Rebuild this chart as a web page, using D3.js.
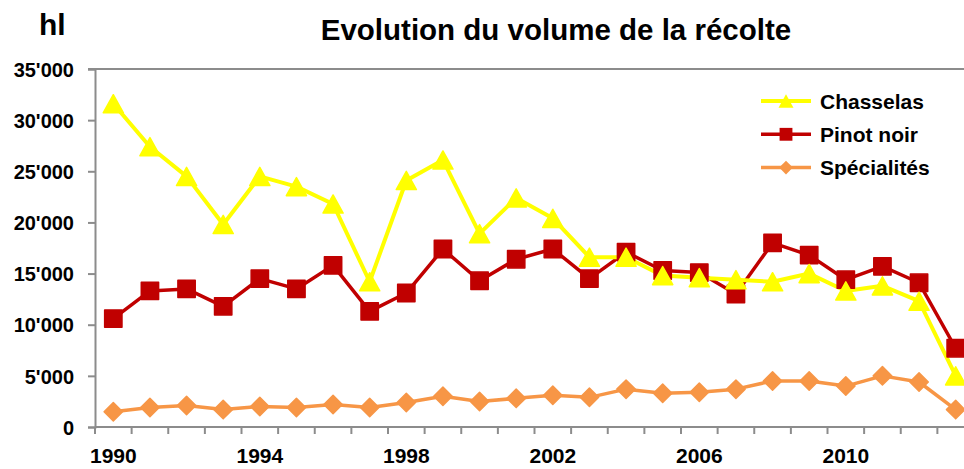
<!DOCTYPE html>
<html>
<head>
<meta charset="utf-8">
<script src="https://cdn.jsdelivr.net/npm/d3@7"></script>
<style>
  body { margin: 0; background: #fff; }
  text { font-family: "Liberation Sans", Arial, sans-serif; font-weight: bold; fill: #000; }
</style>
</head>
<body>
<div id="chart"></div>
<script>
// years on the category axis
var years = d3.range(1990, 2014);
var tickYears = [1990, 1994, 1998, 2002, 2006, 2010];
var yTicks = [0, 5000, 10000, 15000, 20000, 25000, 30000, 35000];

// harvest volume in hl
var chasselas = [31600, 27400, 24500, 19800, 24500, 23500, 21800, 14200, 24100, 26100, 18900, 22400,
                 20400, 16600, 16600, 14800, 14600, 14400, 14200, 15000, 13300, 13800, 12300, 5000];
var pinotNoir = [10600, 13300, 13500, 11800, 14500, 13500, 15800, 11300, 13100, 17400, 14300, 16400,
                 17400, 14500, 17100, 15300, 15100, 13000, 18000, 16800, 14400, 15700, 14100, 7700];
var specialites = [1500, 1900, 2100, 1700, 2000, 1900, 2200, 1900, 2400, 3000, 2500, 2800,
                   3100, 2900, 3700, 3300, 3400, 3700, 4500, 4500, 4000, 5000, 4400, 1700];

// Excel-like markers, centred on their bounding box
var triangle = {
    draw: function (ctx, size) {
        var w = Math.sqrt(size * 1.7), h = w * 0.9;
        ctx.moveTo(0, -h / 2);
        ctx.lineTo(w / 2, h / 2);
        ctx.lineTo(-w / 2, h / 2);
        ctx.closePath();
    }
};
var diamond = {
    draw: function (ctx, size) {
        var r = Math.sqrt(size / 2);
        ctx.moveTo(0, -r);
        ctx.lineTo(r, 0);
        ctx.lineTo(0, r);
        ctx.lineTo(-r, 0);
        ctx.closePath();
    }
};

var series = [
    { name: 'Chasselas', values: chasselas, color: '#ffff00', symbol: triangle, size: 240, width: 4 },
    { name: 'Pinot noir', values: pinotNoir, color: '#c00000', symbol: d3.symbolSquare, size: 300, width: 3.5 },
    { name: 'Spécialités', values: specialites, color: '#f79646', symbol: diamond, size: 170, width: 3.5 }
];

var width = 964, height = 469;
var plotLeft = 95, plotTop = 69, plotBottom = 427, plotRight = 974;

var svg = d3.select('#chart').append('svg')
    .attr('width', width)
    .attr('height', height);

var x = d3.scaleBand().domain(years).range([plotLeft, plotRight]);
var y = d3.scaleLinear().domain([0, 35000]).range([plotBottom, plotTop]);

function fmt(v) {
    return d3.format(',')(v).replace(/,/g, "'");
}

// top border line
svg.append('line')
    .attr('x1', plotLeft - 7).attr('x2', width)
    .attr('y1', y(35000)).attr('y2', y(35000))
    .attr('stroke', '#8c8c8c').attr('stroke-width', 2);

// y axis
var yAxis = svg.append('g')
    .attr('transform', 'translate(' + plotLeft + ',0)')
    .call(d3.axisLeft(y).tickValues(yTicks).tickFormat(fmt).tickSize(7).tickPadding(14));
yAxis.select('.domain').attr('stroke', '#8c8c8c').attr('stroke-width', 2);
yAxis.selectAll('.tick line').attr('stroke', '#8c8c8c').attr('stroke-width', 2);
yAxis.selectAll('text').style('font-size', '20px').attr('dy', '0.36em');

// x axis: ticks between categories, labels every 4 years
var xAxis = svg.append('g')
    .attr('transform', 'translate(0,' + plotBottom + ')');
xAxis.append('line')
    .attr('x1', plotLeft).attr('x2', plotRight)
    .attr('stroke', '#8c8c8c').attr('stroke-width', 2);
xAxis.selectAll('.xt')
    .data(years.concat([2014]))
    .enter().append('line')
    .attr('class', 'xt')
    .attr('x1', function (d) { return d === 2014 ? plotRight : x(d); })
    .attr('x2', function (d) { return d === 2014 ? plotRight : x(d); })
    .attr('y1', 0).attr('y2', 7)
    .attr('stroke', '#8c8c8c').attr('stroke-width', 2);
xAxis.selectAll('.xl')
    .data(tickYears)
    .enter().append('text')
    .attr('class', 'xl')
    .attr('x', function (d) { return x(d) + x.bandwidth() / 2; })
    .attr('y', 36)
    .attr('text-anchor', 'middle')
    .style('font-size', '21px')
    .text(function (d) { return d; });

var line = d3.line()
    .x(function (d, i) { return x(years[i]) + x.bandwidth() / 2; })
    .y(function (d) { return y(d); });

// draw series in reverse so Chasselas sits under the others like the original
series.slice().reverse().forEach(function (s) {
    svg.append('path')
        .datum(s.values)
        .attr('d', line)
        .attr('fill', 'none')
        .attr('stroke', s.color)
        .attr('stroke-width', s.width)
        .attr('stroke-linejoin', 'round');
});
series.slice().reverse().forEach(function (s) {
    svg.selectAll(null)
        .data(s.values)
        .enter().append('path')
        .attr('d', d3.symbol().type(s.symbol).size(s.size))
        .attr('transform', function (d, i) {
            return 'translate(' + (x(years[i]) + x.bandwidth() / 2) + ',' + y(d) + ')';
        })
        .attr('fill', s.color)
        .attr('stroke', s.color)
        .attr('stroke-width', 1.5)
        .attr('stroke-linejoin', 'round');
});

// title and unit
svg.append('text')
    .attr('x', 556).attr('y', 40)
    .attr('text-anchor', 'middle')
    .style('font-size', '29.5px')
    .text('Evolution du volume de la récolte');
svg.append('text')
    .attr('x', 39).attr('y', 35)
    .style('font-size', '30px')
    .text('hl');

// legend
var legend = svg.selectAll('.legend')
    .data(series)
    .enter().append('g')
    .attr('class', 'legend')
    .attr('transform', function (d, i) { return 'translate(761,' + (101 + i * 33.3) + ')'; });
legend.append('line')
    .attr('x1', 0).attr('x2', 50)
    .attr('stroke', function (d) { return d.color; })
    .attr('stroke-width', function (d) { return d.width; });
legend.append('path')
    .attr('transform', 'translate(25,0)')
    .attr('d', function (d) { return d3.symbol().type(d.symbol).size(d.size * 0.55)(); })
    .attr('fill', function (d) { return d.color; });
legend.append('text')
    .attr('x', 59).attr('y', 0).attr('dy', '0.36em')
    .style('font-size', '21px')
    .text(function (d) { return d.name; });
</script>
</body>
</html>
